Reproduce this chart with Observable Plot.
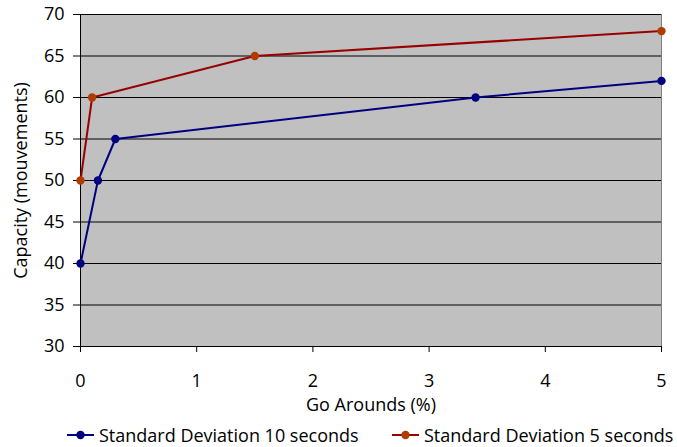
<!DOCTYPE html>
<html>
<head>
<meta charset="utf-8">
<script src="https://cdn.jsdelivr.net/npm/d3@7"></script>
<script src="https://cdn.jsdelivr.net/npm/@observablehq/plot@0.6"></script>
<style>
  html, body { margin: 0; padding: 0; background: #fff; }
  body { width: 677px; height: 447px; overflow: hidden; font-family: "Open Sans", sans-serif; }
  #chart svg text { font-size: 18px; font-family: "Open Sans", sans-serif; fill: #000; }
  #legend { height: 25px; font-size: 18px; color: #000; position: relative; }
  .item { position: absolute; top: 0; height: 25px; display: flex; align-items: center; }
  .item svg { margin-right: 5px; }
</style>
</head>
<body>
<div id="chart"></div>
<div id="legend"></div>
<script>
const seriesNames = ["Standard Deviation 10 seconds", "Standard Deviation 5 seconds"];
const sd10X = [0, 0.15, 0.3, 3.4, 5];
const sd10Y = [40, 50, 55, 60, 62];
const sd5X = [0, 0.1, 1.5, 5];
const sd5Y = [50, 60, 65, 68];
const xTicks = [0, 1, 2, 3, 4, 5];
const yTicks = [30, 35, 40, 45, 50, 55, 60, 65, 70];
const lineColors = ["#000080", "#990000"];
const dotColors = ["#000080", "#B03A00"];

const data = [
  ...sd10X.map((x, i) => ({series: seriesNames[0], x, y: sd10Y[i]})),
  ...sd5X.map((x, i) => ({series: seriesNames[1], x, y: sd5Y[i]}))
];

const W = 677, H = 422;
const font = "'Open Sans', sans-serif";
const chart = Plot.plot({
  width: W,
  height: H,
  marginLeft: 80,
  marginRight: 16,
  marginTop: 14,
  marginBottom: 76,
  style: {fontFamily: font, fontSize: "18px", color: "#000", background: "#fff"},
  x: {domain: [0, 5]},
  y: {domain: [30, 70]},
  color: {domain: seriesNames, range: lineColors},
  marks: [
    Plot.frame({fill: "#c0c0c0", stroke: "#808080", strokeWidth: 1}),
    Plot.gridY(yTicks, {stroke: "#000", strokeOpacity: 1, strokeWidth: 1}),
    Plot.ruleY([30], {stroke: "#000", strokeWidth: 1}),
    Plot.ruleX([0], {stroke: "#000", strokeWidth: 1}),
    Plot.axisX(xTicks, {tickSize: 6, tickPadding: 22, tickFormat: d => String(d), label: "Go Arounds (%)", labelAnchor: "center", labelOffset: 64, labelArrow: "none"}),
    Plot.axisY(yTicks, {tickSize: 7, tickPadding: 9, tickFormat: d => String(d), label: "Capacity (mouvements)", labelAnchor: "center", labelOffset: 66, labelArrow: "none"}),
    Plot.line(data, {x: "x", y: "y", z: "series", stroke: "series", strokeWidth: 2}),
    Plot.dot(data, {x: "x", y: "y", fill: d => d.series === seriesNames[0] ? dotColors[0] : dotColors[1], r: 4.2, stroke: "none"})
  ]
});
document.getElementById("chart").appendChild(chart);

const legend = document.getElementById("legend");
const lefts = [67, 392];
seriesNames.forEach((name, i) => {
  const item = document.createElement("div");
  item.className = "item";
  item.style.left = lefts[i] + "px";
  item.innerHTML = `<svg width="27" height="12"><line x1="0" x2="27" y1="6" y2="6" stroke="${lineColors[i]}" stroke-width="2"/><circle cx="13.5" cy="6" r="4.2" fill="${dotColors[i]}"/></svg><span>${name}</span>`;
  legend.appendChild(item);
});
</script>
</body>
</html>
